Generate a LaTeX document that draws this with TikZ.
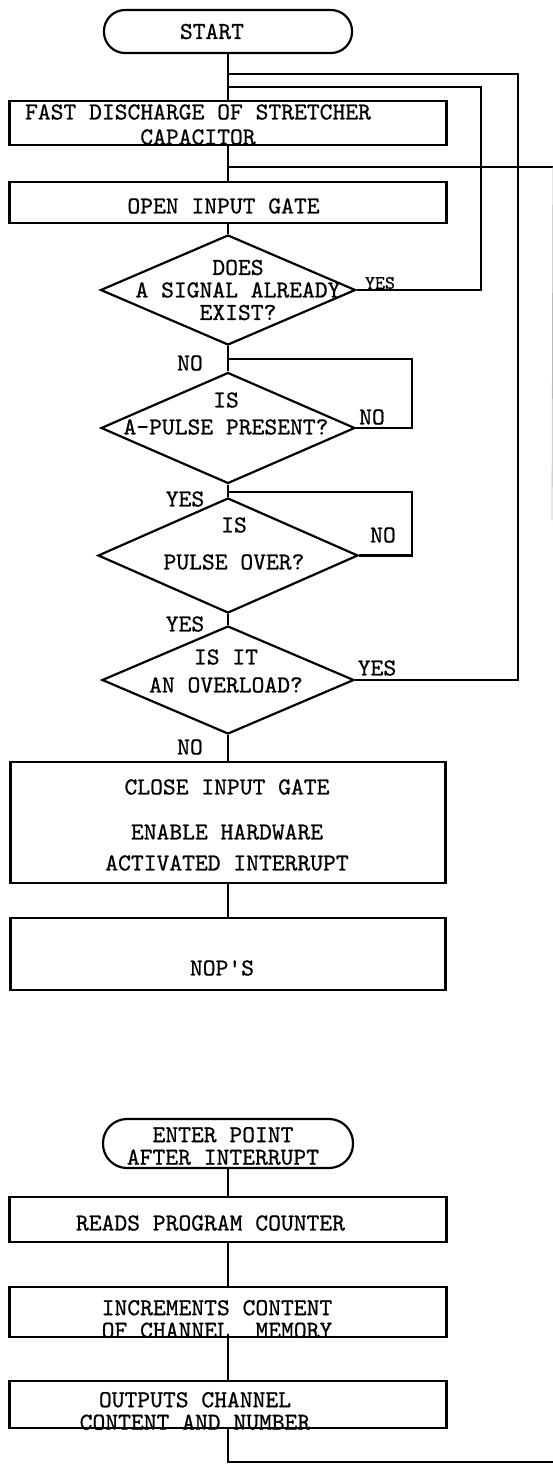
\documentclass[tikz,border=0pt]{standalone}
\usepackage{fontspec}
\newfontfamily\typew{lmmono10-regular.otf}[FakeBold=0.7]
\usetikzlibrary{shapes.geometric}

\tikzset{every picture/.style={line width=2.2pt}}
\tikzset{
  blk/.style={draw, rectangle, inner sep=0pt},
  term/.style={draw, rectangle, rounded corners=21pt, inner sep=0pt},
  dec/.style={draw, diamond, inner sep=0pt},
  txt/.style={inner sep=0pt, align=center, font=\typew\fontsize{24.4}{22.5}\selectfont},
}

\begin{document}
\begin{tikzpicture}[x=1pt,y=1pt,yscale=-1]
\useasboundingbox (0,0) rectangle (553,1464);

% Shapes
\node[term, minimum width=248pt, minimum height=43pt] (start) at (228,31.5) {};
\node[blk, minimum width=437pt, minimum height=44pt] (fast) at (228,123) {};
\node[blk, minimum width=437pt, minimum height=41pt] (open) at (228,202.5) {};
\node[dec, minimum width=255pt, minimum height=110pt] (dSig) at (228,290) {};
\node[dec, minimum width=254pt, minimum height=111pt] (dPul) at (228,428) {};
\node[dec, minimum width=260pt, minimum height=115pt] (dOvr) at (228,555.5) {};
\node[dec, minimum width=252pt, minimum height=108pt] (dOvl) at (228,680) {};
\node[blk, minimum width=435pt, minimum height=121pt] (close) at (228,822.5) {};
\node[blk, minimum width=435pt, minimum height=72pt] (nops) at (228,954) {};
\node[term, rounded corners=24pt, minimum width=250pt, minimum height=49pt] (enter) at (228,1143.5) {};
\node[blk, minimum width=437pt, minimum height=45pt] (reads) at (228,1219.5) {};
\node[blk, minimum width=437pt, minimum height=50pt] (incr) at (228,1312) {};
\node[blk, minimum width=437pt, minimum height=47pt] (outp) at (228,1404.5) {};

% Junctions and corners
\coordinate (j1) at (228,74);
\coordinate (j2) at (228,87);
\coordinate (j3) at (228,167);
\coordinate (j4) at (228,359);
\coordinate (j5) at (228,492);
\coordinate (j6) at (228,1462);
\coordinate (r1) at (518,74);
\coordinate (r2) at (481,87);
\coordinate (r4) at (412,359);
\coordinate (r5) at (412,492);
\coordinate (e1) at (553,167);
\coordinate (e2) at (552,520);
\coordinate (e3) at (553,1462);

%Straight Lines
\draw (start) -- (fast);
\draw (fast) -- (open);
\draw (j3) -- (e1);
\draw (open) -- (dSig);
\draw (dSig) -- (dPul);
\draw (dPul) -- (dOvr);
\draw (dOvr) -- (dOvl);
\draw (dOvl) -- (close);
\draw (close) -- (nops);
\draw (enter) -- (reads);
\draw (reads) -- (incr);
\draw (incr) -- (outp);
\draw (outp) -- (j6) -- (e3);
%Loop backs
\draw (dSig.east) -| (r2) -- (j2);
\draw (dPul.east) -| (r4) -- (j4);
\draw (dOvr.east) -| (r5) -- (j5);
\draw (dOvl.east) -| (r1) -- (j1);
\draw [gray!55, line width=0.8pt] (e1) -- (e2);

% Text Node
\node[txt] (tStart) at (212,31.5) {START};
\node[txt] (tFast) at (198,124.5) {FAST DISCHARGE OF STRETCHER\\[2.5pt]CAPACITOR};
\node[txt] (tOpen) at (223.5,206) {OPEN INPUT GATE};
\node[txt] (tSig) at (238,290) {DOES\\A SIGNAL ALREADY\\EXIST?};
\node[txt] (tPul) at (226,413.5) {IS\\[4.5pt]A-PULSE PRESENT?};
\node[txt] (tOvr) at (234,543.5) {IS\\[14.5pt]PULSE OVER?};
\node[txt] (tOvl) at (226,671) {IS IT\\[5.5pt]AN OVERLOAD?};
\node[txt] (tClose) at (227,825) {CLOSE INPUT GATE\\[22.5pt]ENABLE HARDWARE\\[8.5pt]ACTIVATED INTERRUPT};
\node[txt] (tNops) at (222,968) {NOP'S};
\node[txt] (tEnter) at (223,1146) {ENTER POINT\\AFTER INTERRUPT};
\node[txt] (tReads) at (210.5,1223) {READS PROGRAM COUNTER};
\node[txt] (tIncr) at (217,1319) {INCREMENTS CONTENT\\OF CHANNEL~~MEMORY};
\node[txt] (tOutp) at (195,1411) {OUTPUTS CHANNEL\\CONTENT AND NUMBER};

% Branch labels
\node[txt] (ySig) at (380,283) {\fontsize{19}{20}\selectfont YES};
\node[txt] (nSig) at (190,363) {NO};
\node[txt] (nPul) at (372,417) {NO};
\node[txt] (yPul) at (185,499) {YES};
\node[txt] (nOvr) at (383,535) {NO};
\node[txt] (yOvr) at (185,624) {YES};
\node[txt] (yOvl) at (377,668) {YES};
\node[txt] (nOvl) at (190,747) {NO};

\end{tikzpicture}
\end{document}
